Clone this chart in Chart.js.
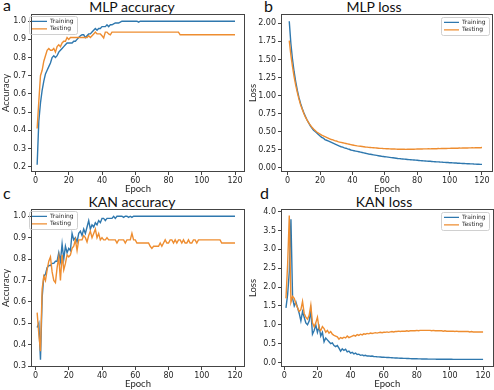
<!DOCTYPE html>
<html>
<head>
<meta charset="utf-8">
<script src="https://cdn.jsdelivr.net/npm/chart.js@4.4.1/dist/chart.umd.min.js"></script>
<style>
  body { margin:0; width:494px; height:390px; background:#fff; position:relative; overflow:hidden; }
  canvas { position:absolute; }
  .tag { position:absolute; font:16px Lato, sans-serif; color:#111; line-height:16px; }
  .ttl { position:absolute; font:14px Lato, sans-serif; color:#111; line-height:14px; transform:translateX(-50%); white-space:nowrap; }
</style>
</head>
<body>
<div class="tag" style="left:3px;top:-3px">a</div>
<div class="tag" style="left:264px;top:-2px">b</div>
<div class="tag" style="left:3px;top:185px">c</div>
<div class="tag" style="left:260px;top:185px">d</div>
<div class="ttl" style="left:132px;top:0px">MLP accuracy</div>
<div class="ttl" style="left:374px;top:0px">MLP loss</div>
<div class="ttl" style="left:132px;top:195px">KAN accuracy</div>
<div class="ttl" style="left:384px;top:195px">KAN loss</div>
<canvas id="cA" width="247" height="195" style="left:0;top:0"></canvas>
<canvas id="cB" width="247" height="195" style="left:247px;top:0"></canvas>
<canvas id="cC" width="247" height="195" style="left:0;top:195px"></canvas>
<canvas id="cD" width="247" height="195" style="left:247px;top:195px"></canvas>
<script>
const epochs = Array.from({length:120}, (_, i) => i + 1);
const xTicks = [0, 20, 40, 60, 80, 100, 120];

const mlpAccTrain = [
  0.21,0.45,0.55,0.62,0.67,0.71,0.73,0.75,0.77,0.80,
  0.81,0.80,0.81,0.83,0.84,0.85,0.86,0.87,0.88,0.88,
  0.88,0.88,0.89,0.89,0.90,0.91,0.92,0.925,0.925,0.91,
  0.92,0.93,0.93,0.94,0.95,0.96,0.95,0.96,0.96,0.97,
  0.97,0.97,0.98,0.97,0.98,0.98,0.985,0.99,0.99,0.99,
  0.995,1.0,1.0,1.0,1.0,1.0,1.0,1.0,1.0,1.0,
  1.0,0.995,1.0,1.0,1.0,1.0,1.0,1.0,1.0,1.0,
  1.0,1.0,1.0,1.0,1.0,1.0,1.0,1.0,1.0,1.0,
  1.0,1.0,1.0,1.0,1.0,1.0,1.0,1.0,1.0,1.0,
  1.0,1.0,1.0,1.0,1.0,1.0,1.0,1.0,1.0,1.0,
  1.0,1.0,1.0,1.0,1.0,1.0,1.0,1.0,1.0,1.0,
  1.0,1.0,1.0,1.0,1.0,1.0,1.0,1.0,1.0,1.0
];
const mlpAccTest = [
  0.41,0.56,0.70,0.73,0.78,0.81,0.84,0.85,0.84,0.84,
  0.85,0.83,0.86,0.87,0.86,0.88,0.89,0.89,0.91,0.90,
  0.91,0.91,0.91,0.91,0.91,0.91,0.91,0.91,0.91,0.91,
  0.91,0.92,0.91,0.92,0.93,0.94,0.93,0.93,0.93,0.92,
  0.908,0.94,0.94,0.93,0.925,0.94,0.94,0.94,0.94,0.94,
  0.94,0.94,0.94,0.94,0.94,0.94,0.94,0.94,0.94,0.94,
  0.94,0.94,0.94,0.94,0.94,0.94,0.94,0.94,0.94,0.94,
  0.94,0.94,0.94,0.94,0.94,0.94,0.94,0.94,0.94,0.94,
  0.94,0.94,0.94,0.94,0.94,0.94,0.925,0.925,0.925,0.925,
  0.925,0.925,0.925,0.925,0.925,0.925,0.925,0.925,0.925,0.925,
  0.925,0.925,0.925,0.925,0.925,0.925,0.925,0.925,0.925,0.925,
  0.925,0.925,0.925,0.925,0.925,0.925,0.925,0.925,0.925,0.925
];
const mlpLossTrain = [
  2.03,1.72,1.50,1.33,1.19,1.07,0.97,0.89,0.82,0.76,
  0.71,0.66,0.62,0.58,0.55,0.52,0.50,0.48,0.46,0.44,
  0.42,0.41,0.39,0.38,0.37,0.36,0.35,0.34,0.33,0.32,
  0.31,0.30,0.29,0.285,0.275,0.27,0.26,0.255,0.245,0.24,
  0.235,0.23,0.225,0.22,0.215,0.21,0.205,0.20,0.195,0.19,
  0.186,0.182,0.178,0.174,0.17,0.166,0.162,0.158,0.155,0.152,
  0.149,0.146,0.143,0.14,0.137,0.134,0.131,0.128,0.126,0.123,
  0.121,0.118,0.116,0.114,0.112,0.11,0.108,0.106,0.104,0.102,
  0.10,0.098,0.096,0.094,0.093,0.091,0.089,0.088,0.086,0.084,
  0.083,0.081,0.08,0.078,0.077,0.075,0.074,0.072,0.071,0.069,
  0.068,0.066,0.065,0.064,0.062,0.061,0.06,0.058,0.057,0.056,
  0.055,0.054,0.053,0.052,0.05,0.049,0.048,0.047,0.046,0.045
];
const mlpLossTest = [
  1.76,1.56,1.40,1.26,1.14,1.04,0.95,0.87,0.81,0.75,
  0.70,0.66,0.62,0.59,0.56,0.535,0.515,0.495,0.48,0.465,
  0.45,0.44,0.43,0.42,0.41,0.40,0.39,0.385,0.375,0.37,
  0.36,0.355,0.35,0.345,0.34,0.335,0.33,0.325,0.32,0.315,
  0.31,0.306,0.302,0.299,0.296,0.293,0.29,0.287,0.285,0.282,
  0.28,0.278,0.276,0.274,0.272,0.27,0.268,0.267,0.265,0.264,
  0.263,0.262,0.26,0.259,0.258,0.258,0.257,0.256,0.256,0.255,
  0.255,0.256,0.254,0.255,0.256,0.255,0.257,0.256,0.257,0.258,
  0.258,0.259,0.258,0.26,0.261,0.26,0.262,0.261,0.263,0.262,
  0.264,0.263,0.265,0.264,0.266,0.265,0.267,0.266,0.268,0.268,
  0.269,0.27,0.269,0.271,0.27,0.272,0.271,0.273,0.272,0.274,
  0.273,0.275,0.274,0.276,0.275,0.277,0.276,0.278,0.277,0.279
];
const kanAccTrain = [
  0.48,0.50,0.33,0.62,0.72,0.73,0.76,0.77,0.77,0.78,
  0.78,0.79,0.79,0.83,0.79,0.87,0.80,0.86,0.83,0.85,
  0.84,0.92,0.89,0.90,0.88,0.92,0.93,0.91,0.94,0.92,
  0.95,0.98,0.94,0.96,0.95,0.97,0.96,0.98,0.97,0.99,
  0.99,0.98,0.99,0.99,0.99,0.99,1.0,0.99,1.0,1.0,
  1.0,1.0,0.995,1.0,1.0,0.995,1.0,0.995,1.0,1.0,
  1.0,1.0,1.0,1.0,1.0,1.0,1.0,1.0,1.0,1.0,
  1.0,1.0,1.0,1.0,1.0,1.0,1.0,1.0,1.0,1.0,
  1.0,1.0,1.0,1.0,1.0,1.0,1.0,1.0,1.0,1.0,
  1.0,1.0,1.0,1.0,1.0,1.0,1.0,1.0,1.0,1.0,
  1.0,1.0,1.0,1.0,1.0,1.0,1.0,1.0,1.0,1.0,
  1.0,1.0,1.0,1.0,1.0,1.0,1.0,1.0,1.0,1.0
];
const kanAccTest = [
  0.55,0.45,0.37,0.66,0.72,0.70,0.75,0.79,0.81,0.74,
  0.70,0.69,0.76,0.81,0.70,0.82,0.75,0.78,0.82,0.81,
  0.82,0.85,0.86,0.89,0.84,0.89,0.89,0.89,0.91,0.90,
  0.88,0.91,0.93,0.90,0.92,0.94,0.90,0.92,0.89,0.90,
  0.89,0.89,0.90,0.89,0.89,0.89,0.89,0.89,0.875,0.89,
  0.89,0.89,0.89,0.875,0.89,0.89,0.89,0.92,0.89,0.89,
  0.875,0.875,0.875,0.875,0.875,0.875,0.875,0.875,0.86,0.85,
  0.86,0.86,0.86,0.86,0.875,0.86,0.875,0.89,0.875,0.875,
  0.89,0.89,0.875,0.89,0.875,0.89,0.89,0.875,0.89,0.875,
  0.875,0.89,0.875,0.875,0.89,0.89,0.875,0.89,0.89,0.89,
  0.89,0.89,0.89,0.89,0.89,0.89,0.89,0.89,0.89,0.89,
  0.89,0.875,0.875,0.875,0.875,0.875,0.875,0.875,0.875,0.875
];
const kanLossTrain = [
  1.45,1.80,2.40,3.80,1.70,1.50,1.60,1.45,1.30,1.10,
  1.35,1.20,1.05,1.00,1.10,1.38,0.75,0.85,1.00,0.80,
  0.95,0.70,0.80,0.55,0.65,0.60,0.55,0.50,0.52,0.45,
  0.42,0.45,0.38,0.30,0.36,0.32,0.35,0.28,0.30,0.25,
  0.27,0.23,0.25,0.21,0.22,0.19,0.20,0.18,0.19,0.17,
  0.175,0.165,0.17,0.16,0.155,0.15,0.148,0.145,0.14,0.138,
  0.135,0.132,0.13,0.128,0.125,0.122,0.12,0.118,0.116,0.114,
  0.112,0.11,0.108,0.106,0.104,0.102,0.10,0.099,0.098,0.097,
  0.096,0.095,0.094,0.093,0.092,0.091,0.09,0.09,0.089,0.088,
  0.088,0.087,0.087,0.086,0.086,0.085,0.085,0.085,0.084,0.084,
  0.084,0.083,0.083,0.083,0.083,0.082,0.082,0.082,0.082,0.082,
  0.081,0.081,0.081,0.081,0.081,0.081,0.081,0.081,0.081,0.081
];
const kanLossTest = [
  1.70,2.60,3.90,1.60,1.75,1.70,1.55,1.45,1.35,1.40,
  1.62,1.30,1.20,1.15,1.25,1.52,1.05,0.95,1.05,1.20,
  0.90,0.85,0.95,0.90,0.80,0.85,0.78,0.82,0.75,0.72,
  0.70,0.68,0.62,0.66,0.64,0.67,0.65,0.70,0.66,0.68,
  0.70,0.72,0.70,0.74,0.72,0.75,0.73,0.76,0.75,0.77,
  0.76,0.78,0.77,0.78,0.79,0.78,0.79,0.80,0.79,0.80,
  0.80,0.81,0.80,0.81,0.82,0.81,0.82,0.82,0.83,0.82,
  0.83,0.83,0.83,0.84,0.83,0.84,0.84,0.84,0.84,0.85,
  0.84,0.85,0.85,0.85,0.85,0.85,0.85,0.85,0.84,0.85,
  0.84,0.84,0.84,0.84,0.84,0.83,0.84,0.83,0.83,0.83,
  0.83,0.83,0.82,0.83,0.82,0.82,0.82,0.82,0.82,0.82,
  0.82,0.81,0.82,0.81,0.81,0.81,0.81,0.81,0.81,0.81
];

const accTicksMlp = [0.2, 0.3, 0.4, 0.5, 0.6, 0.7, 0.8, 0.9, 1.0];
const lossTicksMlp = [0, 0.25, 0.5, 0.75, 1.0, 1.25, 1.5, 1.75, 2.0];
const accTicksKan = [0.3, 0.4, 0.5, 0.6, 0.7, 0.8, 0.9, 1.0];
const lossTicksKan = [0, 0.5, 1.0, 1.5, 2.0, 2.5, 3.0, 3.5, 4.0];

const BLUE = '#2f78ae', ORANGE = '#ee8d30', INK = '#262626', FRAME = '#444';
const tickFont = { family: 'DejaVu Sans', size: 8 };
const labFont = { family: 'Lato', size: 9.5 };

// axes box + legend frame, legend moved to given spot inside the plot
const boxPlugin = {
  id: 'box',
  afterLayout(chart, args, o) {
    const lg = chart.legend, p = lg.options.labels.padding;
    lg.left = o.lx - p; lg.right = lg.left + lg.width;
    lg.top = o.ly - 3.6 - p;
  },
  afterDraw(chart) {
    const { ctx, chartArea: a } = chart;
    ctx.save();
    ctx.strokeStyle = FRAME; ctx.lineWidth = 1;
    ctx.strokeRect(Math.round(a.left) + 0.5, Math.round(a.top) + 0.5, Math.round(a.width) - 1, Math.round(a.height) - 1);
    const hb = chart.legend.legendHitBoxes;
    if (hb && hb.length) {
      const l = Math.min(...hb.map(h => h.left)) - 3, r = Math.max(...hb.map(h => h.left + h.width)) + 3;
      const t = Math.min(...hb.map(h => h.top)) - 2, b = Math.max(...hb.map(h => h.top + h.height)) + 2;
      ctx.strokeStyle = '#d0d0d0';
      ctx.beginPath();
      ctx.roundRect(Math.round(l) + 0.5, Math.round(t) + 0.5, Math.round(r - l), Math.round(b - t), 2);
      ctx.stroke();
    }
    ctx.restore();
  }
};

function panel(id, train, test, o) {
  return new Chart(document.getElementById(id), {
    type: 'line',
    data: { labels: epochs, datasets: [
      { label: 'Training', data: train, borderColor: BLUE, backgroundColor: BLUE, borderWidth: 1.4, pointRadius: 0, tension: 0, order: 1 },
      { label: 'Testing', data: test, borderColor: ORANGE, backgroundColor: ORANGE, borderWidth: 1.4, pointRadius: 0, tension: 0, order: 0 }
    ]},
    plugins: [boxPlugin],
    options: {
      responsive: false, animation: false, events: [], devicePixelRatio: 1,
      layout: { padding: { left: 0, top: 14, right: o.padR, bottom: 0 } },
      plugins: {
        box: { lx: o.lx, ly: o.ly },
        tooltip: { enabled: false },
        legend: {
          position: 'chartArea', align: 'start',
          labels: {
            usePointStyle: true, pointStyle: 'line', pointStyleWidth: 15,
            padding: 1.5, color: INK, font: { family: 'DejaVu Sans', size: 6 },
            sort: (a, b) => a.datasetIndex - b.datasetIndex
          }
        }
      },
      scales: {
        x: {
          type: 'linear', min: o.xMin, max: o.xMax,
          afterBuildTicks: s => { s.ticks = xTicks.map(v => ({ value: v })); },
          afterFit: s => { s.height = 23; },
          ticks: { font: tickFont, color: INK, padding: 1, maxRotation: 0, autoSkip: false, callback: v => String(v) },
          grid: { drawOnChartArea: false, tickLength: 3, color: FRAME },
          border: { display: false },
          title: { display: true, text: 'Epoch', font: labFont, color: INK, padding: { top: 0, bottom: 0.5 } }
        },
        y: {
          min: o.yMin, max: o.yMax,
          afterBuildTicks: s => { s.ticks = o.yTicks.map(v => ({ value: v })); },
          afterFit: s => { s.width = o.yW; },
          ticks: { font: tickFont, color: INK, padding: 2, autoSkip: false, callback: v => v.toFixed(o.dec) },
          grid: { drawOnChartArea: false, tickLength: 3, color: FRAME },
          border: { display: false },
          title: { display: true, text: o.yLabel, font: labFont, color: INK, padding: { top: 0, bottom: 0 } }
        }
      }
    }
  });
}

panel('cA', mlpAccTrain, mlpAccTest, { yLabel: 'Accuracy', yTicks: accTicksMlp, dec: 1, yMin: 0.1705, yMax: 1.0395, xMin: -2.7, xMax: 126, yW: 31, padR: 2, lx: 32, ly: 22 });
panel('cB', mlpLossTrain, mlpLossTest, { yLabel: 'Loss', yTicks: lossTicksMlp, dec: 2, yMin: -0.06, yMax: 2.13, xMin: -4.1, xMax: 126.8, yW: 34, padR: 1, lx: 197, ly: 23 });
panel('cC', kanAccTrain, kanAccTest, { yLabel: 'Accuracy', yTicks: accTicksKan, dec: 1, yMin: 0.296, yMax: 1.034, xMin: -2.7, xMax: 126, yW: 31, padR: 2, lx: 32, ly: 22 });
panel('cD', kanLossTrain, kanLossTest, { yLabel: 'Loss', yTicks: lossTicksKan, dec: 1, yMin: -0.12, yMax: 4.07, xMin: -2, xMax: 126.3, yW: 34, padR: 0.5, lx: 197, ly: 23 });
</script>
</body>
</html>
